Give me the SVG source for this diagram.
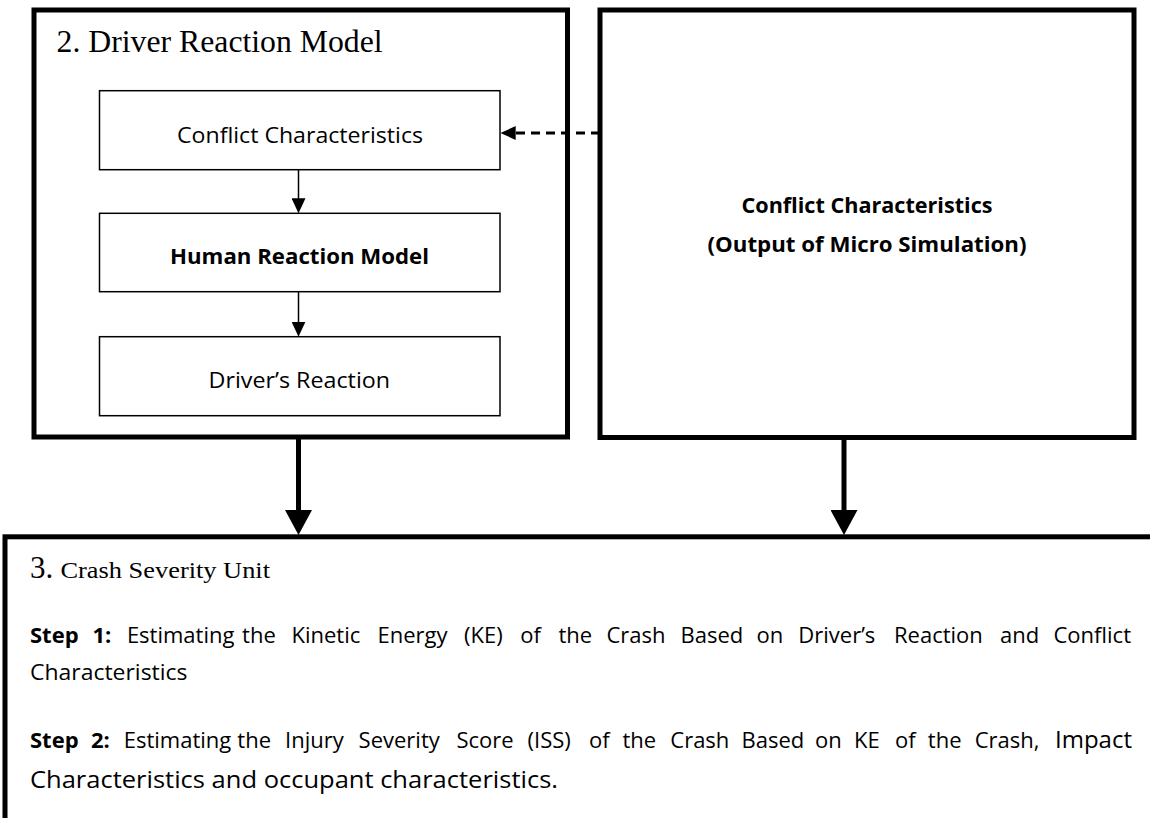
<svg xmlns="http://www.w3.org/2000/svg" width="1150" height="818" viewBox="0 0 1150 818">
  <defs>
    <style>
      .thick{fill:#fff;stroke:#000;stroke-width:5}
      .thin{fill:#fff;stroke:#000;stroke-width:1.5}
      .serif{font-family:"Liberation Serif","Times New Roman",serif;fill:#000}
      .sans{font-family:"Open Sans","Liberation Sans",Arial,sans-serif;fill:#000;font-size:22px}
      .b{font-weight:bold}
      .big{font-size:24px}
      .conn{stroke:#000;fill:none}
      .c-thin{stroke-width:1.5}
      .c-thick{stroke-width:5}
      .c-dash{stroke-width:3;stroke-dasharray:9 6}
    </style>
    <marker id="head-small" markerUnits="userSpaceOnUse" markerWidth="15" markerHeight="14" refX="10" refY="7" orient="auto" viewBox="0 0 15 14">
      <path d="M0,0 L15,7 L0,14 Z" fill="#000"/>
    </marker>
    <marker id="head-big" markerUnits="userSpaceOnUse" markerWidth="25" markerHeight="27" refX="5" refY="13.5" orient="auto" viewBox="0 0 25 27">
      <path d="M0,0 L25,13.5 L0,27 Z" fill="#000"/>
    </marker>
  </defs>
  <rect width="1150" height="818" fill="#fff"/>

  <g id="driver-reaction-model">
    <rect class="thick" x="34" y="10" width="533.5" height="427"/>
    <text class="serif" x="56.6" y="51.7" font-size="32" textLength="326" lengthAdjust="spacingAndGlyphs">2. Driver Reaction Model</text>
  </g>

  <g id="micro-simulation-output">
    <rect class="thick" x="600" y="10" width="534" height="427.5"/>
    <text class="sans b" x="867" y="213.3" text-anchor="middle" textLength="251" lengthAdjust="spacingAndGlyphs">Conflict Characteristics</text>
    <text class="sans b" x="867" y="251.7" text-anchor="middle" textLength="319" lengthAdjust="spacingAndGlyphs">(Output of Micro Simulation)</text>
  </g>

  <g id="conflict-characteristics">
    <rect class="thin" x="99.5" y="90.7" width="400.5" height="79"/>
    <text class="sans" x="300" y="143.3" text-anchor="middle" textLength="246" lengthAdjust="spacingAndGlyphs">Conflict Characteristics</text>
  </g>

  <g id="human-reaction-model">
    <rect class="thin" x="99.5" y="213.3" width="400.5" height="78.4"/>
    <text class="sans b" x="299.5" y="264" text-anchor="middle" textLength="259" lengthAdjust="spacingAndGlyphs">Human Reaction Model</text>
  </g>

  <g id="drivers-reaction">
    <rect class="thin" x="99.5" y="336.7" width="400.5" height="79"/>
    <text class="sans" x="299.3" y="388.3" text-anchor="middle" textLength="181.5" lengthAdjust="spacingAndGlyphs">Driver’s Reaction</text>
  </g>

  <g id="crash-severity-unit">
    <rect class="thick" x="5" y="536.8" width="1160" height="300"/>
    <text class="serif" x="30" y="578.3" font-size="31">3.</text>
    <text class="serif" x="60.5" y="578.3" font-size="23" textLength="209.5" lengthAdjust="spacingAndGlyphs">Crash Severity Unit</text>
    <text class="sans" y="643">
      <tspan class="b" x="30">Step</tspan><tspan class="b" x="92.5">1:</tspan><tspan x="126.9">Estimating</tspan><tspan x="242.1">the</tspan><tspan x="291.5">Kinetic</tspan><tspan x="377.5">Energy</tspan><tspan x="464.1">(KE)</tspan><tspan x="520.2">of</tspan><tspan x="558.5">the</tspan><tspan x="606.5">Crash</tspan><tspan x="680.5">Based</tspan><tspan x="756.5">on</tspan><tspan x="798.3">Driver’s</tspan><tspan x="894">Reaction</tspan><tspan x="1000">and</tspan><tspan x="1053.5">Conflict</tspan>
    </text>
    <text class="sans" x="30" y="680" textLength="157.5" lengthAdjust="spacingAndGlyphs">Characteristics</text>
    <text class="sans" y="748.3">
      <tspan class="b" x="30">Step</tspan><tspan class="b" x="90.9">2:</tspan><tspan x="123.7">Estimating</tspan><tspan x="237.3">the</tspan><tspan x="285.1">Injury</tspan><tspan x="358.6">Severity</tspan><tspan x="456.4">Score</tspan><tspan x="527.6">(ISS)</tspan><tspan x="589">of</tspan><tspan x="622.5">the</tspan><tspan x="670.3">Crash</tspan><tspan x="741.5">Based</tspan><tspan x="815">on</tspan><tspan x="854">KE</tspan><tspan x="895">of</tspan><tspan x="927.8">the</tspan><tspan x="974.7">Crash,</tspan><tspan class="big" x="1055">Impact</tspan>
    </text>
    <text class="sans big" x="30" y="788" textLength="528" lengthAdjust="spacingAndGlyphs">Characteristics and occupant characteristics.</text>
  </g>

  <g id="connectors">
    <line class="conn c-thin" x1="298.5" y1="169.7" x2="298.5" y2="208.3" marker-end="url(#head-small)"/>
    <line class="conn c-thin" x1="298.5" y1="291.7" x2="298.5" y2="331.7" marker-end="url(#head-small)"/>
    <line class="conn c-dash" x1="600" y1="133" x2="505.7" y2="133" marker-end="url(#head-small)"/>
    <line class="conn c-thick" x1="298.5" y1="437" x2="298.5" y2="515" marker-end="url(#head-big)"/>
    <line class="conn c-thick" x1="844" y1="437.5" x2="844" y2="515" marker-end="url(#head-big)"/>
  </g>
</svg>
